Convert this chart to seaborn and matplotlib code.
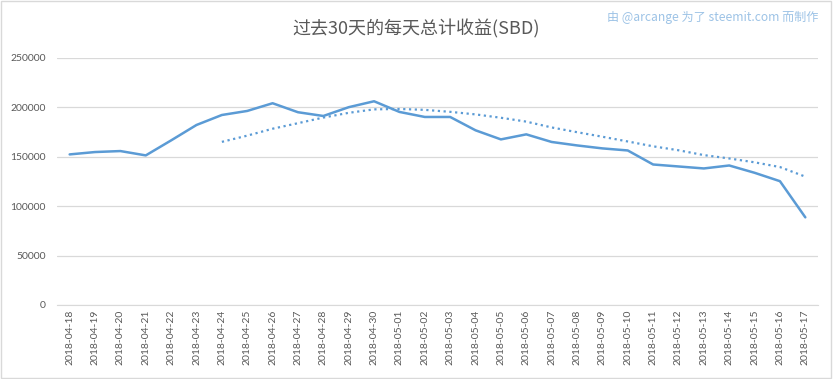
import pandas as pd
import matplotlib.pyplot as plt
import seaborn as sns
from matplotlib.patches import Rectangle

# Daily totals (SBD), 2018-04-18 .. 2018-05-17
dates = pd.date_range("2018-04-18", "2018-05-17").strftime("%Y-%m-%d").tolist()
daily_sbd = [152400, 154800, 155800, 151400, 166600, 182200, 192300, 196400,
             204200, 195100, 191300, 200200, 206200, 195400, 190300, 190300,
             176800, 167600, 172700, 165000, 161500, 158500, 156400, 142200,
             140200, 138200, 141200, 133800, 125300, 88700]
# Dotted trend line (starts at 2018-04-24)
trend_dates = dates[6:]
trend_sbd = [165100, 171400, 178400, 184000, 189700, 194500, 198000, 198400,
             197500, 195500, 192900, 189500, 185600, 179700, 174900, 170300,
             165500, 160600, 156600, 151700, 148300, 144400, 139600, 129900]
y_ticks = [0, 50000, 100000, 150000, 200000, 250000]

sns.set_style("white")
plt.rcParams['font.family'] = ['Lato', 'Noto Sans CJK SC', 'DejaVu Sans']

df = pd.DataFrame({'date': dates, 'sbd': daily_sbd})
trend = pd.DataFrame({'date': trend_dates, 'sbd': trend_sbd})

fig = plt.figure(figsize=(8.33, 3.79), dpi=100)
ax = fig.add_axes([0.0684, 0.1953, 0.9136, 0.6517])

blue = '#5B9BD5'
sns.lineplot(data=df, x='date', y='sbd', ax=ax, color=blue, linewidth=1.8, sort=False)
ax.plot(trend['date'], trend['sbd'], color=blue, linewidth=1.6, linestyle=(0, (1, 1.6)))

ax.set_xlim(-0.5, len(dates) - 0.5)
ax.set_ylim(0, 250000)
ax.set_yticks(y_ticks)
ax.set_yticklabels([str(v) for v in y_ticks])
ax.grid(axis='y', color='#D9D9D9', linewidth=0.9)
ax.set_axisbelow(True)
for s in ['top', 'right', 'left']:
    ax.spines[s].set_visible(False)
ax.spines['bottom'].set_color('#D9D9D9')
ax.tick_params(axis='both', length=0, colors='#595959', labelsize=7.5)
ax.tick_params(axis='y', pad=8)
plt.xticks(rotation=90)
ax.set_xlabel('')
ax.set_ylabel('')

fig.text(0.5, 0.925, '过去30天的每天总计收益(SBD)', ha='center', va='center',
         fontsize=13, color='#595959', family=['Noto Sans CJK SC', 'DejaVu Sans'])
fig.text(0.982, 0.955, '由 @arcange 为了 steemit.com 而制作', ha='right', va='center',
         fontsize=8.7, color='#9DC3E6', family=['Noto Sans CJK SC', 'DejaVu Sans'])

# light frame around the whole chart
fig.patches.append(Rectangle((0.001, 0.002), 0.997, 0.995, transform=fig.transFigure,
                             fill=False, edgecolor='#D9D9D9', linewidth=1))

plt.savefig('out.png', dpi=100)
